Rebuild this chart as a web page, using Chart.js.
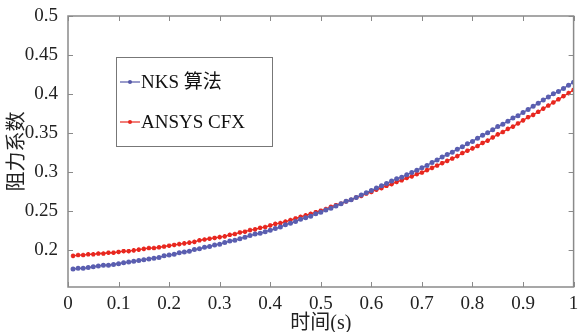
<!DOCTYPE html>
<html>
<head>
<meta charset="utf-8">
<script src="https://cdn.jsdelivr.net/npm/chart.js@4.4.1/dist/chart.umd.min.js"></script>
<style>
  html, body { margin: 0; padding: 0; background: #fff; }
  #wrap { width: 579px; height: 332px; }
</style>
</head>
<body>
<div id="wrap"><canvas id="MyChart" width="579" height="332"></canvas></div>
<script>
// 时间 (s)
const times = [];
for (let i = 1; i <= 100; i++) times.push(i / 100);

// NKS 算法
const nksValues = [
  0.175,0.176,0.176,0.177,0.178,0.179,0.180,0.180,0.181,0.182,
  0.183,0.184,0.185,0.186,0.187,0.188,0.189,0.190,0.192,0.193,
  0.194,0.196,0.197,0.198,0.200,0.201,0.203,0.204,0.206,0.207,
  0.209,0.211,0.212,0.214,0.216,0.218,0.220,0.221,0.223,0.225,
  0.227,0.229,0.232,0.234,0.236,0.239,0.241,0.243,0.246,0.248,
  0.251,0.253,0.256,0.259,0.262,0.264,0.267,0.270,0.273,0.276,
  0.279,0.282,0.285,0.288,0.291,0.293,0.296,0.299,0.302,0.305,
  0.308,0.312,0.315,0.319,0.322,0.325,0.329,0.332,0.336,0.339,
  0.343,0.347,0.350,0.354,0.358,0.361,0.365,0.369,0.372,0.376,
  0.380,0.384,0.388,0.392,0.396,0.400,0.403,0.407,0.411,0.415
];

// ANSYS CFX
const cfxValues = [
  0.192,0.193,0.193,0.194,0.194,0.195,0.195,0.196,0.196,0.197,
  0.198,0.198,0.199,0.200,0.201,0.202,0.202,0.203,0.204,0.205,
  0.206,0.207,0.208,0.209,0.210,0.212,0.213,0.214,0.215,0.216,
  0.217,0.219,0.220,0.222,0.223,0.225,0.226,0.228,0.229,0.231,
  0.233,0.234,0.236,0.238,0.240,0.242,0.244,0.246,0.248,0.250,
  0.252,0.255,0.257,0.259,0.262,0.264,0.267,0.269,0.272,0.274,
  0.277,0.279,0.282,0.284,0.287,0.289,0.292,0.294,0.297,0.299,
  0.302,0.305,0.308,0.311,0.314,0.317,0.320,0.324,0.327,0.330,
  0.333,0.337,0.340,0.344,0.348,0.351,0.355,0.358,0.362,0.366,
  0.370,0.373,0.377,0.381,0.385,0.389,0.393,0.397,0.401,0.405
];

const xTicks = [0, 0.1, 0.2, 0.3, 0.4, 0.5, 0.6, 0.7, 0.8, 0.9, 1];
const yTicks = [0.2, 0.25, 0.3, 0.35, 0.4, 0.45, 0.5];

const FONT = '"Liberation Serif", "Times New Roman", serif';
const CJK = '"Liberation Serif", "Noto Sans CJK SC", serif';
const AXIS_GREY = '#8a8a8a';

// MATLAB 风格的边框、内向刻度和图例
const framePlugin = {
  id: 'frame',
  afterDraw(chart) {
    const ctx = chart.ctx;
    const a = chart.chartArea;
    const xs = chart.scales.x, ys = chart.scales.y;
    ctx.save();
    ctx.strokeStyle = AXIS_GREY;
    ctx.lineWidth = 1.5;
    ctx.strokeRect(a.left, a.top, a.right - a.left, a.bottom - a.top);
    ctx.lineWidth = 1;
    xTicks.forEach(v => {
      const px = Math.round(xs.getPixelForValue(v)) + 0.5;
      ctx.beginPath();
      ctx.moveTo(px, a.bottom); ctx.lineTo(px, a.bottom - 5);
      ctx.moveTo(px, a.top); ctx.lineTo(px, a.top + 5);
      ctx.stroke();
    });
    yTicks.forEach(v => {
      const py = Math.round(ys.getPixelForValue(v)) + 0.5;
      ctx.beginPath();
      ctx.moveTo(a.left, py); ctx.lineTo(a.left + 5, py);
      ctx.moveTo(a.right, py); ctx.lineTo(a.right - 5, py);
      ctx.stroke();
    });

    // 图例
    const bx = 116, by = 57, bw = 156, bh = 89;
    ctx.fillStyle = '#fff';
    ctx.fillRect(bx, by, bw, bh);
    ctx.strokeStyle = '#777';
    ctx.lineWidth = 1;
    ctx.strokeRect(bx + 0.5, by + 0.5, bw, bh);
    const rows = [82, 122];
    chart.data.datasets.forEach((ds, i) => {
      const y = rows[i];
      ctx.strokeStyle = ds.borderColor;
      ctx.lineWidth = 1.2;
      ctx.beginPath();
      ctx.moveTo(bx + 4, y); ctx.lineTo(bx + 24, y);
      ctx.stroke();
      ctx.fillStyle = ds.borderColor;
      ctx.beginPath();
      ctx.arc(bx + 14, y, 2, 0, Math.PI * 2);
      ctx.fill();
      ctx.fillStyle = '#111';
      ctx.font = '19px ' + CJK;
      ctx.textBaseline = 'middle';
      ctx.textAlign = 'left';
      ctx.fillText(ds.label, bx + 25, y + 1);
    });
    ctx.restore();
  }
};

const ctx = document.getElementById('MyChart').getContext('2d');
const chart = new Chart(ctx, {
  type: 'line',
  data: {
    datasets: [
      {
        label: 'NKS 算法',
        data: times.map((t, i) => ({ x: t, y: nksValues[i] })),
        borderColor: '#5558a8',
        backgroundColor: '#5a5eb0',
        borderWidth: 1.3,
        pointStyle: 'circle',
        pointRadius: 2.5,
        pointBorderWidth: 0,
        tension: 0
      },
      {
        label: 'ANSYS CFX',
        data: times.map((t, i) => ({ x: t, y: cfxValues[i] })),
        borderColor: '#e8271f',
        backgroundColor: '#e8271f',
        borderWidth: 1.3,
        pointStyle: 'star',
        pointRadius: 2.3,
        pointBorderWidth: 1.4,
        tension: 0
      }
    ]
  },
  options: {
    responsive: false,
    animation: false,
    layout: { padding: { top: 16, right: 1, left: 0, bottom: 0 } },
    plugins: { legend: { display: false }, tooltip: { enabled: false } },
    scales: {
      x: {
        type: 'linear',
        min: 0,
        max: 1,
        afterBuildTicks: s => { s.ticks = xTicks.map(v => ({ value: v })); },
        afterFit: s => { s.height = 45; },
        grid: { display: false },
        border: { display: false },
        ticks: {
          color: '#222',
          font: { family: FONT, size: 19 },
          padding: -2,
          maxRotation: 0,
          autoSkip: false,
          callback: v => String(Number(v.toFixed(2)))
        },
        title: {
          display: true,
          text: '时间(s)',
          color: '#222',
          font: { family: CJK, size: 20, lineHeight: 1 },
          padding: { top: 0, bottom: -2 }
        }
      },
      y: {
        type: 'linear',
        min: 0.152,
        max: 0.5,
        afterBuildTicks: s => { s.ticks = yTicks.map(v => ({ value: v })); },
        afterFit: s => { s.width = 68; },
        grid: { display: false },
        border: { display: false },
        ticks: {
          color: '#222',
          font: { family: FONT, size: 19 },
          padding: 2,
          autoSkip: false,
          callback: v => String(Number(v.toFixed(2)))
        },
        title: {
          display: true,
          text: '阻力系数',
          color: '#222',
          font: { family: CJK, size: 20, lineHeight: 1 },
          padding: { top: 8, bottom: 0 }
        }
      }
    }
  },
  plugins: [framePlugin]
});
</script>
</body>
</html>
